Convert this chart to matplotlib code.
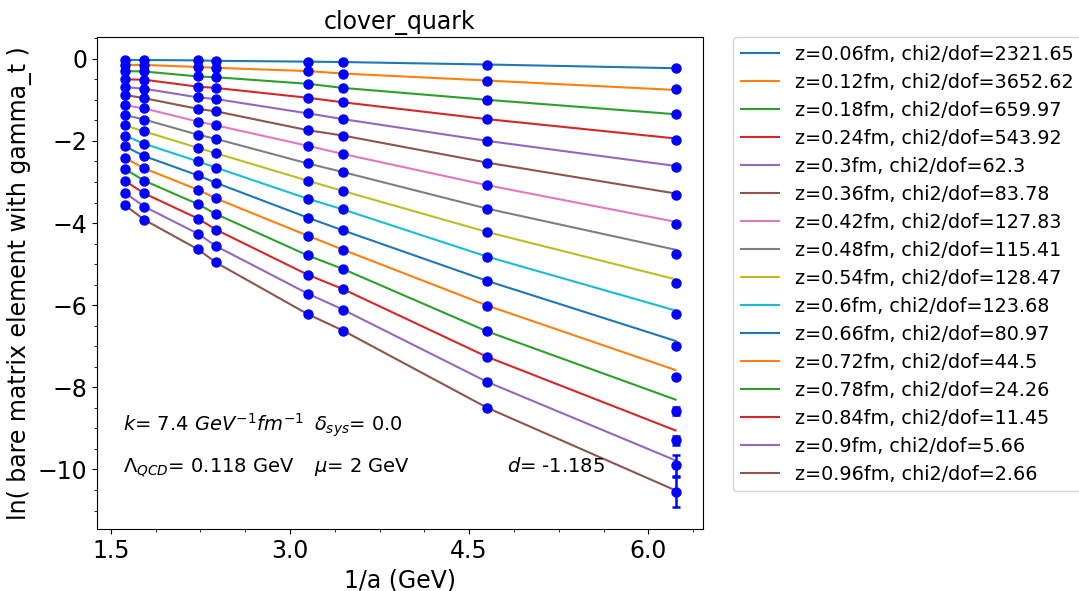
import numpy as np
import matplotlib.pyplot as plt
from matplotlib.ticker import MultipleLocator, AutoMinorLocator

# 1/a in GeV for the eight lattice ensembles
inv_a = [1.617, 1.781, 2.230, 2.380, 3.150, 3.445, 4.652, 6.227]

z_fm = ['0.06', '0.12', '0.18', '0.24', '0.3', '0.36', '0.42', '0.48',
        '0.54', '0.6', '0.66', '0.72', '0.78', '0.84', '0.9', '0.96']
chi2_dof = ['2321.65', '3652.62', '659.97', '543.92', '62.3', '83.78', '127.83', '115.41',
            '128.47', '123.68', '80.97', '44.5', '24.26', '11.45', '5.66', '2.66']

# ln(bare matrix element), one row per z, one column per 1/a
ln_me = [
    [-0.03, -0.03, -0.04, -0.05, -0.07, -0.08, -0.14, -0.22],
    [-0.15, -0.15, -0.20, -0.22, -0.30, -0.36, -0.53, -0.74],
    [-0.30, -0.31, -0.43, -0.45, -0.61, -0.71, -1.00, -1.35],
    [-0.50, -0.51, -0.68, -0.71, -0.95, -1.06, -1.47, -1.97],
    [-0.69, -0.73, -0.94, -0.98, -1.33, -1.47, -2.00, -2.64],
    [-0.88, -0.96, -1.22, -1.28, -1.74, -1.87, -2.53, -3.32],
    [-1.13, -1.21, -1.53, -1.62, -2.12, -2.32, -3.08, -4.03],
    [-1.37, -1.48, -1.85, -1.95, -2.55, -2.76, -3.65, -4.76],
    [-1.62, -1.77, -2.17, -2.30, -2.97, -3.22, -4.22, -5.46],
    [-1.87, -2.07, -2.50, -2.65, -3.41, -3.67, -4.82, -6.22],
    [-2.13, -2.37, -2.84, -3.02, -3.87, -4.18, -5.41, -6.99],
    [-2.41, -2.67, -3.19, -3.40, -4.31, -4.65, -6.01, -7.75],
    [-2.68, -2.97, -3.54, -3.78, -4.79, -5.12, -6.64, -8.57],
    [-2.97, -3.28, -3.89, -4.16, -5.26, -5.61, -7.26, -9.29],
    [-3.26, -3.60, -4.26, -4.56, -5.72, -6.11, -7.87, -9.90],
    [-3.56, -3.92, -4.64, -4.96, -6.22, -6.62, -8.50, -10.55],
]

ln_me_err = [
    [0.005, 0.005, 0.005, 0.005, 0.005, 0.005, 0.005, 0.01],
    [0.005, 0.005, 0.005, 0.005, 0.005, 0.005, 0.005, 0.01],
    [0.005, 0.005, 0.005, 0.005, 0.005, 0.005, 0.005, 0.01],
    [0.005, 0.005, 0.005, 0.005, 0.005, 0.005, 0.01, 0.01],
    [0.005, 0.005, 0.005, 0.005, 0.005, 0.005, 0.01, 0.02],
    [0.005, 0.005, 0.005, 0.005, 0.005, 0.01, 0.01, 0.02],
    [0.005, 0.005, 0.005, 0.005, 0.01, 0.01, 0.01, 0.02],
    [0.005, 0.005, 0.005, 0.01, 0.01, 0.01, 0.01, 0.02],
    [0.005, 0.005, 0.01, 0.01, 0.01, 0.01, 0.01, 0.03],
    [0.005, 0.01, 0.01, 0.01, 0.01, 0.01, 0.02, 0.03],
    [0.01, 0.01, 0.01, 0.01, 0.01, 0.02, 0.02, 0.04],
    [0.01, 0.01, 0.01, 0.01, 0.02, 0.02, 0.02, 0.05],
    [0.01, 0.01, 0.01, 0.02, 0.02, 0.02, 0.03, 0.10],
    [0.01, 0.01, 0.02, 0.02, 0.02, 0.02, 0.03, 0.11],
    [0.01, 0.02, 0.02, 0.02, 0.02, 0.03, 0.04, 0.25],
    [0.02, 0.02, 0.02, 0.02, 0.03, 0.03, 0.05, 0.36],
]

# fitted curves evaluated at the same 1/a values
ln_me_fit = [
    [-0.03, -0.03, -0.04, -0.05, -0.07, -0.08, -0.14, -0.23],
    [-0.15, -0.15, -0.20, -0.22, -0.30, -0.36, -0.53, -0.76],
    [-0.30, -0.31, -0.43, -0.45, -0.61, -0.71, -1.00, -1.35],
    [-0.50, -0.51, -0.68, -0.71, -0.95, -1.06, -1.47, -1.94],
    [-0.69, -0.73, -0.94, -0.98, -1.33, -1.47, -2.00, -2.61],
    [-0.88, -0.96, -1.22, -1.28, -1.74, -1.87, -2.53, -3.28],
    [-1.13, -1.21, -1.53, -1.62, -2.12, -2.32, -3.08, -3.97],
    [-1.37, -1.48, -1.85, -1.95, -2.55, -2.76, -3.65, -4.65],
    [-1.62, -1.77, -2.17, -2.30, -2.97, -3.22, -4.22, -5.37],
    [-1.87, -2.07, -2.50, -2.65, -3.41, -3.67, -4.82, -6.13],
    [-2.13, -2.37, -2.84, -3.02, -3.87, -4.18, -5.41, -6.87],
    [-2.41, -2.67, -3.19, -3.40, -4.31, -4.65, -6.01, -7.58],
    [-2.68, -2.97, -3.54, -3.78, -4.79, -5.12, -6.64, -8.30],
    [-2.97, -3.28, -3.89, -4.16, -5.26, -5.61, -7.26, -9.05],
    [-3.26, -3.60, -4.26, -4.56, -5.72, -6.11, -7.87, -9.78],
    [-3.56, -3.92, -4.64, -4.96, -6.22, -6.62, -8.50, -10.51],
]

fig = plt.figure(figsize=(10.79, 5.91), dpi=100)
fig.subplots_adjust(left=97 / 1079, right=703 / 1079, top=1 - 37 / 591, bottom=1 - 529 / 591)
ax = fig.add_subplot(111)

for i in range(len(z_fm)):
    ax.plot(inv_a, ln_me_fit[i], linewidth=1.5,
            label=f'z={z_fm[i]}fm, chi2/dof={chi2_dof[i]}')
for i in range(len(z_fm)):
    ax.errorbar(inv_a, ln_me[i], yerr=ln_me_err[i], fmt='o', color='blue',
                markersize=6.5, capsize=3, elinewidth=1.8, capthick=1.8)

ax.text(1.605, -9.05, r'$k$= 7.4 $GeV^{-1}fm^{-1}$', fontsize=14)
ax.text(3.20, -9.05, r'$\delta_{sys}$= 0.0', fontsize=14)
ax.text(1.605, -10.07, r'$\Lambda_{QCD}$= 0.118 GeV', fontsize=14)
ax.text(3.20, -10.07, r'$\mu$= 2 GeV', fontsize=14)
ax.text(4.816, -10.07, r'$d$= -1.185', fontsize=14)

ax.set_xlim(1.385, 6.457)
ax.set_ylim(-11.45, 0.53)
ax.xaxis.set_major_locator(MultipleLocator(1.5))
ax.yaxis.set_major_locator(MultipleLocator(2))
ax.xaxis.set_minor_locator(AutoMinorLocator())
ax.yaxis.set_minor_locator(AutoMinorLocator())
ax.tick_params(labelsize=17)

ax.set_title('clover_quark', fontsize=17)
ax.set_xlabel('1/a (GeV)', fontsize=17)
ax.set_ylabel('ln( bare matrix element with gamma_t )', fontsize=17)
ax.legend(loc='upper left', bbox_to_anchor=(1.05, 1), borderaxespad=0, fontsize=13.8,
          labelspacing=0.47)

fig.savefig('out.png', dpi=100)
